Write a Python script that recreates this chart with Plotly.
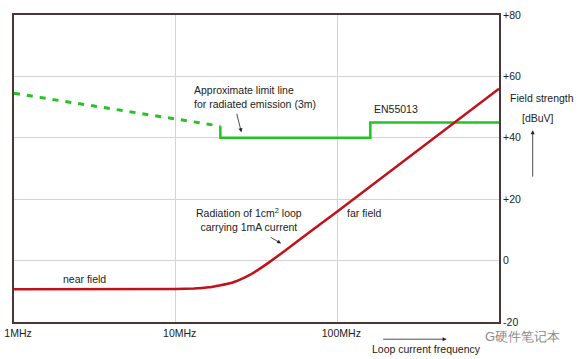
import numpy as np
import plotly.graph_objects as go

# ---- data ----
# Radiation of 1cm^2 loop carrying 1mA (dBuV vs MHz)
loop_freq_mhz = [1, 10, 13, 16, 19, 22, 25, 28, 32, 38, 45, 58, 100, 1000]
loop_level_db = [-9.3, -9.25, -9.1, -8.7, -8.0, -7.3, -6.2, -5.0, -3.2, -0.5, 2.3, 6.7, 16.0, 56.0]

# Approximate limit line (dashed part, extrapolated)
limit_dash_freq_mhz = [1, 18.9]
limit_dash_level_db = [54.5, 43.8]

# EN55013 limit (solid)
limit_freq_mhz = [18.9, 18.9, 160, 160, 1000]
limit_level_db = [43.8, 40, 40, 45, 45]

x_tick_vals = [1, 10, 100]
x_tick_text = ["1MHz", "10MHz", "100MHz"]
y_tick_vals = [-20, 0, 20, 40, 60, 80]
y_tick_text = ["-20", "0", "+20", "+40", "+60", "+80"]

FONT = "Liberation Sans, Arial, sans-serif"
TXT = "#222222"
FS = 10.5

fig = go.Figure()
fig.add_trace(go.Scatter(x=limit_dash_freq_mhz, y=limit_dash_level_db, mode="lines",
                         line=dict(color="#22c322", width=3, dash="6px,7px"),
                         hoverinfo="skip"))
fig.add_trace(go.Scatter(x=limit_freq_mhz, y=limit_level_db, mode="lines",
                         line=dict(color="#22c322", width=2.5),
                         hoverinfo="skip"))
fig.add_trace(go.Scatter(x=loop_freq_mhz, y=loop_level_db, mode="lines",
                         line=dict(color="#c0121a", width=2.5, shape="spline", smoothing=0.3),
                         hoverinfo="skip"))

ann = []
def text(x, y, s, xref="x", yref="y", xanchor="center", align="center", size=FS, color=TXT):
    ann.append(dict(x=x, y=y, xref=xref, yref=yref, text=s, showarrow=False,
                    xanchor=xanchor, yanchor="middle", align=align,
                    font=dict(family=FONT, size=size, color=color)))

def arrow(x, y, ax, ay, xref="x", yref="y"):
    ann.append(dict(x=x, y=y, xref=xref, yref=yref, ax=ax, ay=ay, text="",
                    showarrow=True, arrowhead=2, arrowsize=1, arrowwidth=0.8,
                    arrowcolor="#222222"))

text(np.log10(12.56), 53.4, "Approximate limit line<br>for radiated emission (3m)",
     xanchor="left", align="left")
arrow(np.log10(25.5), 41.8, -5, -20)
text(np.log10(230), 49.4, "EN55013")
text(np.log10(28.6), 13.4, "Radiation of 1cm<sup>2</sup> loop<br>carrying 1mA current")
arrow(np.log10(44.9), 5.6, -12, -7)
text(np.log10(147), 15.6, "far field")
text(np.log10(2.74), -6.1, "near field")

text(1.088, 53, "Field strength", xref="paper")
text(1.080, 46.4, "[dBuV]", xref="paper")
arrow(1.0695, 42.5, 0, 48, xref="paper")

text(0.851, -0.089, "Loop current frequency", xref="paper", yref="paper")
arrow(0.892, -0.056, -65, 0, xref="paper", yref="paper")

text(0.9664, -0.047, "G硬件笔记本", xref="paper", yref="paper", xanchor="left",
     size=13, color="#8a8a8a")

fig.update_layout(
    width=579, height=359,
    margin=dict(l=14, r=80, t=15, b=37, autoexpand=False),
    paper_bgcolor="white", plot_bgcolor="white",
    showlegend=False,
    annotations=ann,
    font=dict(family=FONT, size=FS, color=TXT),
    xaxis=dict(type="log", range=[0, 3], tickvals=x_tick_vals, ticktext=x_tick_text,
               showgrid=True, gridcolor="#d3d3d3", gridwidth=1,
               showline=True, linecolor="#4d3535", linewidth=2, mirror=True,
               ticks="", ticklabelshift=4, zeroline=False, automargin=False,
               tickfont=dict(family=FONT, size=FS, color=TXT)),
    yaxis=dict(range=[-20, 80], side="right", tickvals=y_tick_vals, ticktext=y_tick_text,
               showgrid=True, gridcolor="#d3d3d3", gridwidth=1,
               showline=True, linecolor="#4d3535", linewidth=2, mirror=True,
               ticks="", zeroline=False, automargin=False,
               tickfont=dict(family=FONT, size=FS, color=TXT)),
)

fig.write_html("out.html", config={"displayModeBar": False},
               post_script="document.body.style.margin='0';document.body.style.overflow='hidden';")
